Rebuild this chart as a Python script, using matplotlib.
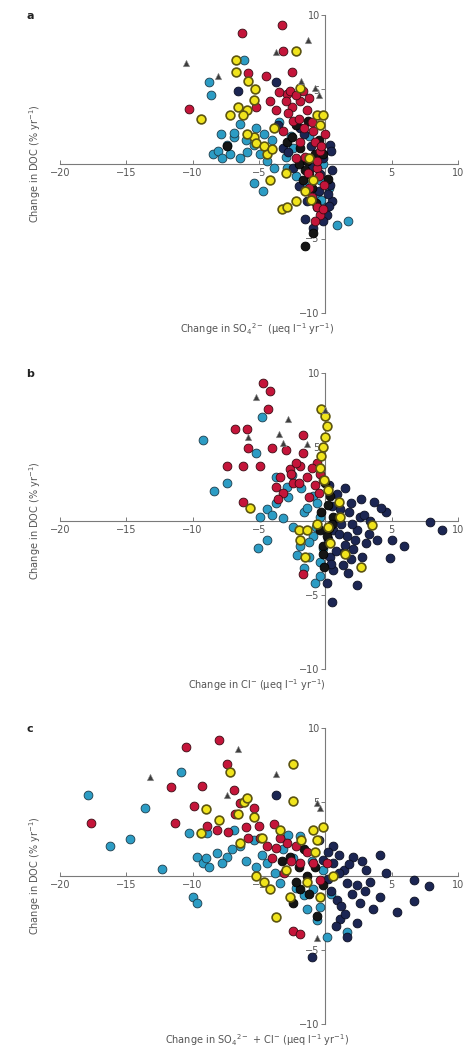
# DOC trend vs change in SO4 / Cl / SO4+Cl, three stacked panels

import matplotlib
matplotlib.use('Agg')
import matplotlib.pyplot as plt

plt.rcParams['font.family'] = ['DejaVu Sans']
plt.rcParams['mathtext.default'] = 'regular'

# ---- data: (x, y) per site group ----
# panel a: change in SO4
A_RED = [(-3.3, 9.3), (-6.3, 8.8), (-3.2, 7.6), (-2.5, 6.2), (-4.5, 5.9), (-10.3, 3.7), (-5.8, 6.1),
         (-2.9, 4.7), (-1.9, 4.2), (-1.4, 3.6), (-2.4, 2.9), (-0.9, 2.2), (-3.7, 3.6), (-1.9, 1.5),
         (-0.4, 0.9), (-0.65, -0.25), (-1.2, -1.6), (-0.65, -2.9), (-0.4, -3.4), (-2.7, 4.9),
         (-4.2, 4.2), (-5.2, 3.8), (-3.2, 2.2), (-1.7, 4.9), (-0.8, 1.5), (-2.2, 0.4), (0.0, 2.0),
         (-2.0, 3.0), (-1.0, 2.8), (-0.3, 1.2), (-1.5, 0.5), (-0.5, -0.8), (-1.0, -2.2), (-0.2, -3.0),
         (-2.5, 3.8), (-3.5, 4.8), (-1.2, 4.4), (-2.2, 4.6), (-1.6, 2.4), (-0.6, 0.2), (-1.3, -0.6),
         (-0.8, -3.8), (-0.1, -1.4), (-2.8, 3.4), (-3.0, 4.2)]
A_LBLUE = [(-6.1, 7.0), (-8.8, 5.5), (-8.6, 4.6), (-8.5, 0.65), (-8.1, 0.9), (-7.4, 1.3), (-6.9, 1.8),
           (-7.9, 2.0), (-6.4, 0.4), (-5.9, 0.8), (-5.4, 1.3), (-4.9, 0.65), (-4.4, 0.2), (-5.4, -1.3),
           (-4.7, -1.8), (-3.9, -0.25), (0.9, -4.1), (1.7, -3.8), (-2.4, 1.1), (-1.9, 0.2), (-0.9, 0.4),
           (-0.4, -1.1), (-5.2, 2.4), (-6.4, 2.7), (-6.9, 2.1), (-0.65, -2.0), (-3.0, 0.5), (-2.2, -0.8),
           (-0.3, -2.4), (0.3, -1.6), (-1.2, 1.9), (-3.5, 2.8), (-4.0, 1.6), (-6.0, 1.6), (-7.8, 0.4),
           (-2.6, 1.9), (-1.6, -1.2), (-0.2, 0.0), (-7.2, 0.7), (-4.6, 2.0), (0.1, -2.9), (-2.9, -0.3)]
A_NAVY = [(-6.6, 4.9), (-3.7, 5.5), (-1.5, -3.7), (0.35, 1.3), (0.35, -1.4), (0.5, -2.5), (0.1, -3.4),
          (-0.9, -4.3), (-0.4, -0.7), (-0.15, 0.4), (0.2, -2.0), (-1.9, 2.4), (-3.2, 1.1), (-2.4, -0.25),
          (-1.4, -2.5), (-1.0, -0.2), (-0.5, -1.8), (0.3, -2.8), (-0.2, -3.8), (-1.6, 2.0), (-2.8, 0.8),
          (0.4, 0.9), (-3.6, 2.6), (-2.0, -1.5), (0.5, -0.4), (-0.6, -2.9), (-1.1, 1.2)]
A_BLACK = [(-1.5, -5.5), (-0.9, -4.6), (-7.4, 1.2), (-2.9, 1.5), (-1.9, 1.1), (-1.4, 0.2), (-1.2, -0.7),
           (-1.7, -1.1), (-0.8, 0.65), (-0.5, 1.6), (-1.5, -0.4), (-2.2, 2.6), (-0.7, -2.6), (0.2, -1.0),
           (-2.5, 1.8), (-1.0, -1.6), (-0.2, 0.7), (-2.0, 0.0), (-1.3, 2.9)]
A_YELLOW = [(-2.2, 7.6), (-6.7, 7.0), (-6.7, 6.2), (-5.8, 5.6), (-5.3, 5.0), (-5.4, 4.3), (-6.6, 3.8),
            (-7.2, 3.3), (-9.4, 3.0), (-5.9, 3.6), (-5.4, 1.8), (-5.2, 1.4), (-5.9, 2.0), (-4.4, 0.65),
            (-4.2, -1.1), (-3.3, -3.0), (-2.9, -2.9), (-2.2, -2.5), (-0.65, 3.3), (-0.15, 3.3),
            (-1.9, 5.1), (-0.9, -1.1), (-1.2, 0.4), (-3.9, 2.4), (-4.6, 1.2), (-1.5, -1.8), (-0.4, 2.6),
            (-3.0, -0.6), (-6.2, 3.3), (-4.0, 1.0), (-1.1, -2.4)]
A_TRI = [(-10.5, 6.8), (-8.1, 5.9), (-1.3, 8.3), (-3.7, 7.5), (-1.8, 5.6), (-0.8, 5.1), (-0.5, 4.6)]

# panel b: change in Cl
B_RED = [(-4.7, 9.3), (-4.2, 8.8), (-4.3, 7.6), (-6.8, 6.2), (-5.9, 6.2), (-5.8, 4.9), (-7.4, 3.7),
         (-6.2, 3.7), (-4.9, 3.7), (-6.2, 1.3), (-1.7, 5.8), (-4.0, 4.9), (-3.0, 4.8), (-1.7, 4.6),
         (-1.9, 3.7), (-0.65, 3.9), (-3.7, 2.3), (-3.2, 1.9), (-2.4, 2.6), (-1.4, 3.0), (-0.4, 3.2),
         (-1.7, -3.6), (-2.7, 3.5), (-3.4, 3.0), (-2.0, 2.6), (-1.2, 1.6), (-0.8, 2.4), (-2.6, 3.2),
         (-0.2, 2.8), (-2.2, 3.9), (-3.6, 1.5), (-1.0, 3.6), (-0.5, 1.9)]
B_LBLUE = [(-9.2, 5.5), (-4.8, 7.0), (-7.4, 2.6), (-8.4, 2.0), (-5.2, 4.6), (-3.7, 3.0), (-2.5, 3.1),
           (-4.4, 0.8), (-4.9, 0.3), (-4.4, -1.3), (-5.1, -1.8), (-0.9, -1.0), (-1.2, -2.4), (-0.8, -4.2),
           (-0.4, -3.7), (-1.9, -1.7), (-0.9, 1.7), (-0.4, 0.3), (-3.7, 1.2), (-1.6, 0.6), (-2.4, -0.4),
           (-1.2, -1.4), (-0.6, 1.2), (-2.8, 1.6), (-1.8, 2.2), (-0.4, -2.8), (-1.6, -3.2), (-3.2, 0.2),
           (-2.1, -2.3), (-0.7, -0.4), (-1.4, 0.9), (-2.9, 2.3), (-4.0, 0.4), (-0.2, -1.8)]
B_NAVY = [(3.7, 1.3), (4.6, 0.6), (3.9, -1.3), (5.0, -1.3), (5.9, -1.7), (4.9, -2.5), (2.4, -4.3),
          (7.9, -0.1), (8.8, -0.6), (0.5, -5.5), (1.6, -1.0), (2.1, -1.9), (2.6, 0.3), (1.1, 0.8),
          (0.6, -0.6), (1.9, -2.6), (0.6, -3.3), (0.1, -4.2), (3.1, -1.5), (1.9, 1.2), (2.4, -0.6),
          (1.4, -2.1), (0.35, -2.4), (0.5, 1.0), (1.2, -0.2), (1.8, 0.6), (2.9, 0.4), (3.3, -0.9),
          (2.2, -1.3), (0.8, -2.0), (1.3, -3.0), (0.2, -1.2), (4.2, 0.9), (2.7, 1.5), (0.3, 2.4),
          (1.5, -1.6), (1.0, -0.9), (2.0, -0.2), (0.9, 1.8), (3.4, 0.0), (1.7, -3.5), (0.4, -2.9),
          (2.8, -2.4), (1.5, 2.2), (0.8, 0.2)]
B_BLACK = [(0.35, 1.7), (0.6, 0.3), (0.1, -1.0), (-0.4, -0.6), (-0.15, -1.7), (-0.3, 0.6), (0.5, -0.2),
           (-0.2, -2.2), (0.2, 1.1), (0.0, 2.6), (-0.1, -3.1), (0.3, -0.5)]
B_YELLOW = [(-0.3, 7.6), (0.0, 7.1), (0.1, 6.4), (0.0, 5.7), (-0.15, 5.0), (-0.3, 4.4), (-0.4, 3.6),
            (-5.7, 0.9), (-2.0, -0.6), (-1.9, -1.3), (-1.5, -2.4), (1.0, 1.3), (1.1, 0.3), (3.5, -0.25),
            (2.7, -3.1), (0.35, -1.5), (0.2, 2.1), (-0.1, 2.8), (0.2, -0.4), (-0.6, -0.2), (-1.4, -0.6),
            (1.5, -2.2)]
B_TRI = [(-5.2, 8.4), (-2.8, 6.9), (-3.5, 5.9), (-5.8, 5.7), (-3.2, 5.3), (0.0, 7.5), (-1.4, 5.2)]

# panel c: change in SO4 + Cl
C_RED = [(-17.7, 3.6), (-10.5, 8.7), (-8.0, 9.2), (-7.4, 7.6), (-11.6, 6.0), (-9.3, 6.1), (-11.3, 3.6),
         (-8.9, 3.4), (-9.9, 4.7), (-6.9, 5.8), (-6.4, 4.9), (-5.4, 4.6), (-4.9, 2.6), (-3.9, 3.5),
         (-2.9, 2.2), (-2.4, -3.7), (-1.9, -3.9), (-0.9, 0.85), (0.1, 0.85), (-1.9, 0.85), (-3.7, 1.9),
         (-6.0, 3.3), (-4.4, 2.0), (-2.6, 1.0), (-3.4, 2.6), (-1.4, 1.6), (-6.8, 4.2), (-8.2, 3.1),
         (-5.0, 3.4), (-4.0, 1.2), (-2.2, 2.0), (-0.4, -0.3), (-5.8, 2.6), (-3.1, 0.2), (-7.3, 3.0)]
C_LBLUE = [(-17.9, 5.5), (-13.6, 4.6), (-10.9, 7.0), (-14.7, 2.5), (-16.2, 2.0), (-12.3, 0.5),
           (-10.3, 2.9), (-9.7, 1.3), (-10.0, -1.4), (-9.7, -1.8), (-9.2, 0.85), (-8.2, 1.55),
           (-7.4, 1.3), (-6.4, 2.0), (-5.4, 2.4), (-3.2, 1.8), (-1.9, 2.7), (-0.9, -0.9), (0.1, -4.1),
           (1.6, -3.8), (-4.4, 0.85), (-6.9, 3.1), (-8.9, 2.9), (-0.4, -2.1), (-7.0, 1.8), (-6.0, 1.0),
           (-5.2, 0.6), (-3.8, 0.2), (-2.2, -0.8), (-1.4, -2.2), (-0.6, -3.0), (0.4, -1.2), (-8.8, 0.6),
           (-9.0, 1.2), (-2.8, 2.8), (-1.0, 1.0), (-4.8, 1.4), (-2.4, 1.2), (-1.6, -1.3), (-0.2, 0.4),
           (-7.8, 0.9), (-3.4, -0.5)]
C_NAVY = [(-3.7, 5.5), (4.1, 1.4), (6.7, -0.3), (7.8, -0.7), (6.7, -1.7), (5.4, -2.4), (4.1, -1.4),
          (3.6, -2.2), (2.4, -3.2), (1.1, -2.9), (1.6, -4.1), (3.1, 0.4), (2.1, 1.3), (0.6, 2.0),
          (1.6, -0.5), (2.6, -1.8), (0.85, -1.6), (-1.0, -5.5), (0.6, 0.85), (1.4, 0.4), (0.2, 1.6),
          (1.0, 0.2), (1.8, 0.8), (2.4, -0.6), (3.0, -1.0), (0.4, -1.0), (1.2, -2.0), (-0.5, 2.4),
          (2.8, 1.0), (0.8, -3.4), (4.6, 0.2), (1.0, 1.4), (2.0, -1.2), (0.2, -0.2), (3.4, -0.4),
          (-0.2, 1.1), (1.5, -2.6)]
C_BLACK = [(-1.9, -0.9), (-2.4, -1.8), (-1.4, 0.0), (-2.7, 1.3), (-0.65, -2.7), (-0.8, 0.6), (-1.6, 1.8),
           (-2.2, -0.4), (-0.2, -0.6), (-3.3, 1.0), (-1.2, -1.2), (-2.0, 0.6)]
C_YELLOW = [(-2.4, 7.6), (-2.4, 5.1), (-6.1, 5.0), (-7.2, 7.0), (-9.0, 4.5), (-9.4, 2.9), (-3.7, -2.8),
            (-0.15, 3.3), (-0.9, 3.1), (-0.65, 2.4), (-4.2, -0.9), (-5.2, 0.0), (-2.7, -1.4), (-0.4, -1.4),
            (0.6, 0.0), (-5.9, 5.3), (-5.4, 4.0), (-3.4, 3.1), (-6.6, 4.2), (-4.8, 2.6), (-3.0, 0.4),
            (-1.4, -0.4), (-0.8, 1.6), (-6.4, 2.2), (-8.0, 3.8), (-4.6, -0.4), (-1.8, 2.4)]
C_TRI = [(-13.2, 6.7), (-6.6, 8.6), (-3.7, 6.9), (-7.4, 5.5), (-0.65, 4.9), (-0.65, -4.2), (-0.4, 4.6)]

PANELS = [
    ('a', 'Change in SO$_4$$^{2-}$ (μeq l$^{-1}$ yr$^{-1}$)',
     [('lblue', A_LBLUE), ('navy', A_NAVY), ('black', A_BLACK), ('red', A_RED), ('yellow', A_YELLOW)], A_TRI),
    ('b', 'Change in Cl$^{-}$ (μeq l$^{-1}$ yr$^{-1}$)',
     [('navy', B_NAVY), ('lblue', B_LBLUE), ('black', B_BLACK), ('red', B_RED), ('yellow', B_YELLOW)], B_TRI),
    ('c', 'Change in SO$_4$$^{2-}$ + Cl$^{-}$ (μeq l$^{-1}$ yr$^{-1}$)',
     [('lblue', C_LBLUE), ('navy', C_NAVY), ('black', C_BLACK), ('red', C_RED), ('yellow', C_YELLOW)], C_TRI),
]

X_TICKS = [-20, -15, -10, -5, 5, 10]
Y_TICKS = [-10, -5, 5, 10]

# group styles (fill, edge, edge width)
STYLE = {
    'lblue': ('#2c9cc4', '#1d3c4a', 0.6),
    'navy': ('#1c2653', '#0b0f22', 0.6),
    'black': ('#151515', '#000000', 0.6),
    'red': ('#c4153a', '#3a0a12', 0.6),
    'yellow': ('#f0e41c', '#5c5410', 1.2),
}
AXIS_GREY = '#7a7a7a'
TEXT_GREY = '#555555'

fig = plt.figure(figsize=(4.73, 10.55), dpi=100)

# axes boxes in pixel coords: top, bottom of the y range
boxes = [(15, 313), (373, 669), (728, 1024)]
W, H = 473.0, 1055.0

for (letter, xlabel, groups, tri), (top, bot) in zip(PANELS, boxes):
    ax = fig.add_axes([60 / W, 1 - bot / H, 398 / W, (bot - top) / H])
    ax.set_xlim(-20, 10)
    ax.set_ylim(-10, 10)

    for name, g in groups:
        fc, ec, lw = STYLE[name]
        xs = [p[0] for p in g]
        ys = [p[1] for p in g]
        ax.scatter(xs, ys, s=40, c=fc, edgecolors=ec, linewidths=lw, zorder=3, clip_on=False)

    ax.scatter([p[0] for p in tri], [p[1] for p in tri], s=22, marker='^', c='#3d3d3d',
               edgecolors='#999999', linewidths=0.4, zorder=4, clip_on=False)

    # cross-shaped axes through the origin
    for side in ('top', 'right'):
        ax.spines[side].set_visible(False)
    ax.spines['left'].set_position(('data', 0))
    ax.spines['bottom'].set_position(('data', 0))
    for side in ('left', 'bottom'):
        ax.spines[side].set_color(AXIS_GREY)
        ax.spines[side].set_linewidth(0.8)
    ax.set_xticks(X_TICKS)
    ax.set_yticks(Y_TICKS)
    ax.tick_params(axis='x', direction='in', length=3, width=0.7, color=AXIS_GREY,
                   labelsize=7, labelcolor=TEXT_GREY, pad=3)
    ax.tick_params(axis='y', direction='out', length=3, width=0.7, color=AXIS_GREY,
                   labelsize=7, labelcolor=TEXT_GREY, pad=1)
    ax.patch.set_visible(False)

    # labels placed as figure text
    mid = (top + bot) / 2.0
    fig.text(35 / W, 1 - mid / H, 'Change in DOC (% yr$^{-1}$)', rotation=90,
             ha='center', va='center', fontsize=7, color=TEXT_GREY)
    fig.text(257 / W, 1 - (bot + 16) / H, xlabel, ha='center', va='center',
             fontsize=7, color=TEXT_GREY)
    fig.text(30 / W, 1 - (top + 1) / H, letter, ha='center', va='center',
             fontsize=8, fontweight='bold', color='#222222')

fig.savefig('out.png', dpi=100)
